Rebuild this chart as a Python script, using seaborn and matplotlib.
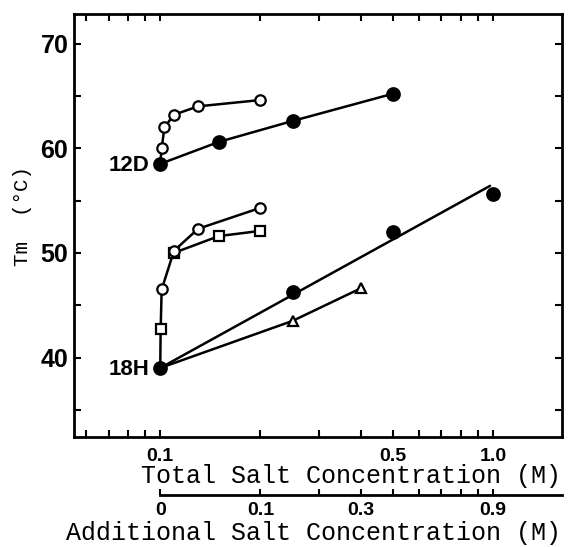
import numpy as np
import pandas as pd
import seaborn as sns
import matplotlib.pyplot as plt
from matplotlib.ticker import FixedLocator, NullFormatter

# ---- data (total salt conc. in M, Tm in degC) ----
d12_filled_x = [0.1, 0.15, 0.25, 0.5]
d12_filled_y = [58.5, 60.6, 62.6, 65.2]
d12_open_x = [0.101, 0.103, 0.11, 0.13, 0.2]
d12_open_y = [60.0, 62.0, 63.2, 64.0, 64.6]

h18_filled_x = [0.1, 0.25, 0.5, 1.0]
h18_filled_y = [39.0, 46.3, 52.0, 55.6]
h18_fit_x = [0.1, 0.98]
h18_fit_y = [39.0, 56.4]
h18_open_x = [0.101, 0.11, 0.13, 0.2]
h18_open_y = [46.5, 50.2, 52.3, 54.3]
h18_square_x = [0.1003, 0.11, 0.15, 0.2]
h18_square_y = [42.7, 50.0, 51.6, 52.1]
h18_tri_x = [0.25, 0.4]
h18_tri_y = [43.5, 46.6]

x_major = [0.1, 0.5, 1.0]
x_major_labels = ['0.1', '0.5', '1.0']
x_minor = [0.06, 0.07, 0.08, 0.09, 0.2, 0.3, 0.4, 0.6, 0.7, 0.8, 0.9]
add_ticks = [0.1, 0.2, 0.3, 0.4, 0.5, 0.6, 0.7, 0.8, 0.9, 1.0]
add_labels = ['0', '0.1', '', '0.3', '', '', '', '', '', '0.9']

sns.set_style('ticks')
plt.rcParams['font.family'] = ['Liberation Sans', 'DejaVu Sans']
plt.rcParams.update({'text.color': 'black', 'axes.labelcolor': 'black',
                     'xtick.color': 'black', 'ytick.color': 'black'})

fig = plt.figure(figsize=(5.68, 5.47), dpi=100)
ax = fig.add_axes([0.130, 0.201, 0.859, 0.773])

lw = 1.8
line_kw = dict(color='black', lw=lw, estimator=None, sort=False, legend=False, ax=ax)

# connecting lines (each curve starts from the 0.1 M filled point)
sns.lineplot(x=d12_filled_x, y=d12_filled_y, **line_kw)
sns.lineplot(x=[d12_filled_x[0]] + d12_open_x, y=[d12_filled_y[0]] + d12_open_y, **line_kw)
sns.lineplot(x=h18_fit_x, y=h18_fit_y, **line_kw)
sns.lineplot(x=[h18_filled_x[0], h18_square_x[0]] + h18_open_x,
             y=[h18_filled_y[0], h18_square_y[0]] + h18_open_y, **line_kw)
sns.lineplot(x=h18_square_x[1:], y=h18_square_y[1:], **line_kw)
sns.lineplot(x=[h18_filled_x[0]] + h18_tri_x, y=[h18_filled_y[0]] + h18_tri_y, **line_kw)

# markers
def marks(x, y, marker, face, size):
    ax.plot(x, y, ls='none', marker=marker, ms=size, mfc=face, mec='black',
            mew=1.6, zorder=5)

marks(d12_filled_x, d12_filled_y, 'o', 'black', 9)
marks(d12_open_x, d12_open_y, 'o', 'white', 7.5)
marks(h18_filled_x, h18_filled_y, 'o', 'black', 9)
marks(h18_square_x, h18_square_y, 's', 'white', 6.8)
marks(h18_open_x, h18_open_y, 'o', 'white', 7.5)
marks(h18_tri_x, h18_tri_y, '^', 'white', 7.0)

ax.annotate('12D', (0.1, d12_filled_y[0]), xytext=(-8, -1), textcoords='offset points',
            ha='right', va='center', fontsize=16, fontweight='bold')
ax.annotate('18H', (0.1, h18_filled_y[0]), xytext=(-8, -1), textcoords='offset points',
            ha='right', va='center', fontsize=16, fontweight='bold')

ax.set_xscale('log')
ax.set_xlim(0.055, 1.61)
ax.set_ylim(32.4, 72.8)
ax.xaxis.set_major_locator(FixedLocator(x_major))
ax.set_xticklabels(x_major_labels, fontweight='bold')
ax.xaxis.set_minor_locator(FixedLocator(x_minor))
ax.xaxis.set_minor_formatter(NullFormatter())
ax.set_yticks([40, 50, 60, 70])
ax.set_yticklabels(['40', '50', '60', '70'], fontweight='bold')
ax.yaxis.set_minor_locator(FixedLocator([35, 45, 55, 65]))
ax.tick_params(which='both', direction='in', top=True, right=True,
               length=5, width=1.5, color='black', labelcolor='black')
ax.tick_params(axis='y', labelsize=18, pad=4)
ax.tick_params(axis='x', labelsize=14, pad=8)
for s in ax.spines.values():
    s.set_linewidth(2)
    s.set_color('black')

mono = dict(family='Liberation Mono', fontsize=18, color='black')
ax.set_xlabel('Total Salt Concentration (M)', **mono)
ax.xaxis.set_label_coords(351 / 568, 1 - 476 / 547, transform=fig.transFigure)
ax.xaxis.label.set_va('center')
ax.set_ylabel('Tm  (°C)', family='Liberation Mono', fontsize=15, color='black')
ax.yaxis.set_label_coords(23 / 568, 1 - 216 / 547, transform=fig.transFigure)
ax.yaxis.label.set_va('center')

# additional-salt scale under the main axis
ax2 = fig.add_axes([0.130, 1 - 495 / 547, 0.859, 0.0001])
ax2.set_facecolor('none')
ax2.set_xscale('log')
ax2.set_xlim(0.055, 1.61)
ax2.set_yticks([])
for side in ['top', 'left', 'right']:
    ax2.spines[side].set_visible(False)
ax2.spines['bottom'].set_bounds(0.1, 1.61)
ax2.spines['bottom'].set_linewidth(2)
ax2.spines['bottom'].set_color('black')
ax2.xaxis.set_major_locator(FixedLocator(add_ticks))
ax2.set_xticklabels(add_labels, fontweight='bold')
ax2.xaxis.set_minor_locator(FixedLocator([]))
ax2.tick_params(axis='x', direction='in', length=4, width=1.5, labelsize=14, pad=5,
                color='black', labelcolor='black')
ax2.set_xlabel('Additional Salt Concentration (M)', **mono)
ax2.xaxis.set_label_coords(313 / 568, 1 - 533 / 547, transform=fig.transFigure)
ax2.xaxis.label.set_va('center')

fig.savefig('out.png', dpi=100)
